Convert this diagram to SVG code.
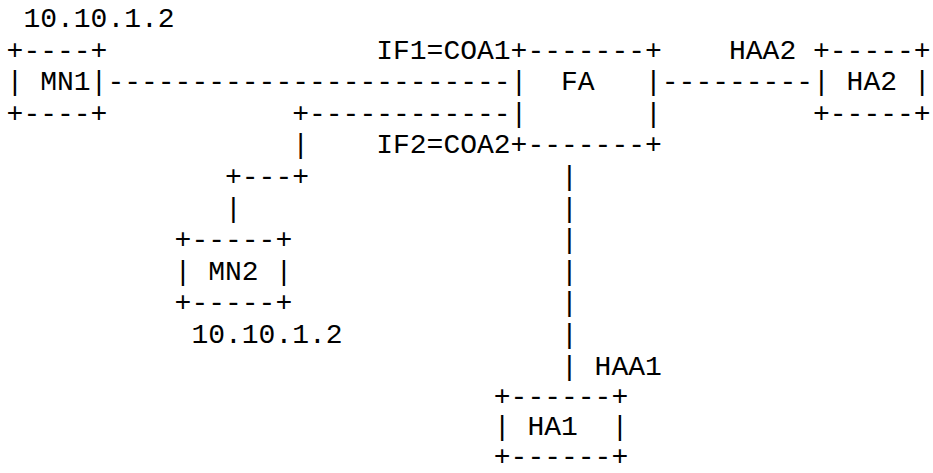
<svg xmlns="http://www.w3.org/2000/svg" width="933" height="473" viewBox="0 0 933 473" xml:space="preserve">
<style>
text { font-family: "Liberation Mono", "Courier New", monospace; font-size: 28px; fill: #000; white-space: pre; }
</style>
<rect x="0" y="0" width="933" height="473" fill="#fff"/>
<g id="connectors">
<text x="107.4" y="90.2">------------------------</text>
<text x="292.2" y="121.8">+------------</text>
<text x="292.2" y="153.4">|</text>
<text x="225" y="185">+---+</text>
<text x="225" y="216.6">|</text>
<text x="661.8" y="90.2">---------</text>
<text x="561" y="185">|</text>
<text x="561" y="216.6">|</text>
<text x="561" y="248.2">|</text>
<text x="561" y="279.8">|</text>
<text x="561" y="311.4">|</text>
<text x="561" y="343">|</text>
<text x="561" y="374.6">|</text>
</g>
<g id="MN1">
<text x="6.6" y="58.6">+----+</text>
<text x="6.6" y="90.2">| MN1|</text>
<text x="6.6" y="121.8">+----+</text>
</g>
<g id="FA">
<text x="510.6" y="58.6">+-------+</text>
<text x="510.6" y="90.2">|  FA   |</text>
<text x="510.6" y="121.8">|       |</text>
<text x="510.6" y="153.4">+-------+</text>
</g>
<g id="HA2">
<text x="813" y="58.6">+-----+</text>
<text x="813" y="90.2">| HA2 |</text>
<text x="813" y="121.8">+-----+</text>
</g>
<g id="MN2">
<text x="174.6" y="248.2">+-----+</text>
<text x="174.6" y="279.8">| MN2 |</text>
<text x="174.6" y="311.4">+-----+</text>
</g>
<g id="HA1">
<text x="493.8" y="405">+------+</text>
<text x="493.8" y="434.5">| HA1  |</text>
<text x="493.8" y="464.5">+------+</text>
</g>
<g id="labels">
<text x="23.4" y="27">10.10.1.2</text>
<text x="376.2" y="58.6">IF1=COA1</text>
<text x="376.2" y="153.4">IF2=COA2</text>
<text x="729" y="58.6">HAA2</text>
<text x="191.4" y="343">10.10.1.2</text>
<text x="594.6" y="374.6">HAA1</text>
</g>
</svg>
